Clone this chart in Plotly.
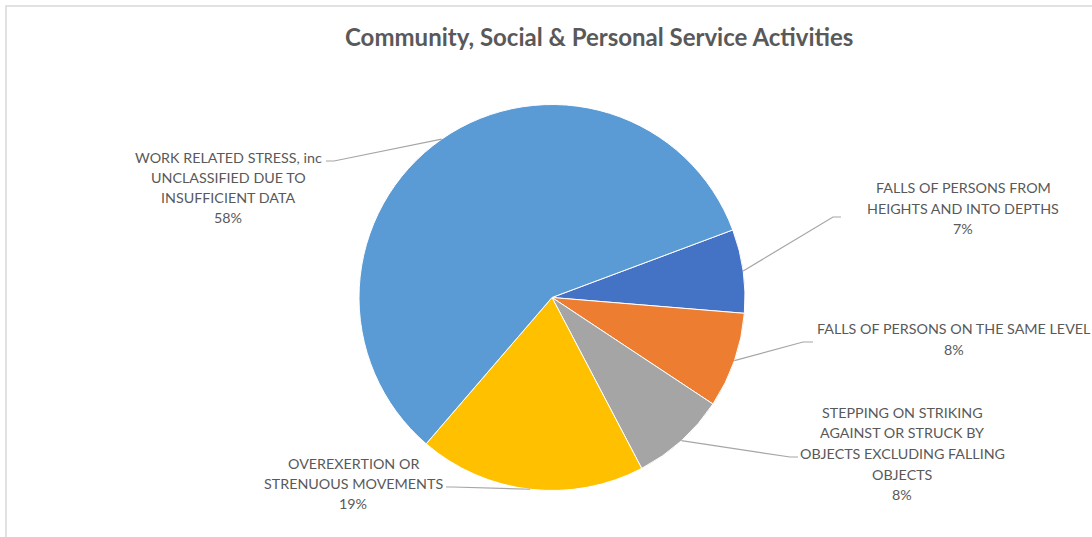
import math
import plotly.graph_objects as go

# Share of incidents by cause (percent), in drawing order (clockwise)
categories = [
    "FALLS OF PERSONS FROM HEIGHTS AND INTO DEPTHS",
    "FALLS OF PERSONS ON THE SAME LEVEL",
    "STEPPING ON STRIKING AGAINST OR STRUCK BY OBJECTS EXCLUDING FALLING OBJECTS",
    "OVEREXERTION OR STRENUOUS MOVEMENTS",
    "WORK RELATED STRESS, inc UNCLASSIFIED DUE TO INSUFFICIENT DATA",
]
values = [7, 8, 8, 19, 58]
label_lines = [
    ["FALLS OF PERSONS FROM", "HEIGHTS AND INTO DEPTHS"],
    ["FALLS OF PERSONS ON THE SAME LEVEL"],
    ["STEPPING ON STRIKING", "AGAINST OR STRUCK BY", "OBJECTS EXCLUDING FALLING", "OBJECTS"],
    ["OVEREXERTION OR", "STRENUOUS MOVEMENTS"],
    ["WORK RELATED STRESS, inc", "UNCLASSIFIED DUE TO", "INSUFFICIENT DATA"],
]
colors = ["#4472C4", "#ED7D31", "#A5A5A5", "#FFC000", "#5B9BD5"]

W, H = 1092, 537
CX, CY, R = 552.0, 297.5, 193.0
ROTATION = 69.5

# label block placement: (centre x, first line y, line step) and leader (elbow, end)
label_pos = [
    (963, 187, 21.0),
    (954, 328, 21.0),
    (902, 412, 20.7),
    (353, 463, 20.3),
    (228, 157, 20.2),
]
leaders = [
    ((833, 217), (841, 217)),
    ((803, 342), (813, 342)),
    ((790, 457), (798, 457)),
    ((453, 487), (446, 487)),
    ((334, 161), (326, 161)),
]

FONT = "Lato, Carlito, 'Open Sans', sans-serif"
TXT = "#595959"


def px(x):
    return x / W


def py(y):
    return 1 - y / H


fig = go.Figure(
    go.Pie(
        labels=categories,
        values=values,
        sort=False,
        direction="clockwise",
        rotation=ROTATION,
        marker=dict(colors=colors, line=dict(color="white", width=1)),
        textinfo="none",
        hoverinfo="label+percent",
        showlegend=False,
        domain=dict(x=[px(CX - R), px(CX + R)], y=[py(CY + R), py(CY - R)]),
    )
)

annotations = []
shapes = []
total = sum(values)
cum = 0.0
for i, v in enumerate(values):
    mid = ROTATION + (cum + v / 2) / total * 360.0
    cum += v
    a = math.radians(mid)
    sx, sy = CX + R * math.sin(a), CY - R * math.cos(a)
    (ex, ey), (tx, ty) = leaders[i]
    shapes.append(dict(type="path", xref="paper", yref="paper",
                       path=f"M {px(sx)},{py(sy)} L {px(ex)},{py(ey)} L {px(tx)},{py(ty)}",
                       line=dict(color="#A6A6A6", width=1.2)))
    cx, y0, step = label_pos[i]
    lines = label_lines[i] + [f"{round(v / total * 100)}%"]
    for j, t in enumerate(lines):
        annotations.append(dict(text=t, x=px(cx), y=py(y0 + j * step), xref="paper", yref="paper",
                                xanchor="center", yanchor="middle", showarrow=False,
                                font=dict(family=FONT, size=14.3, color=TXT)))

annotations.append(dict(text="<b>Community, Social &amp; Personal Service Activities</b>",
                        x=px(599), y=py(36), xref="paper", yref="paper",
                        xanchor="center", yanchor="middle", showarrow=False,
                        font=dict(family=FONT, size=24, color=TXT)))

# chart-area frame
shapes.append(dict(type="rect", xref="paper", yref="paper",
                   x0=px(6), y0=py(560), x1=px(1120), y1=py(6),
                   line=dict(color="#D9D9D9", width=1.5)))

fig.update_layout(
    width=W, height=H,
    margin=dict(l=0, r=0, t=0, b=0),
    paper_bgcolor="white", plot_bgcolor="white",
    annotations=annotations, shapes=shapes,
)

fig.write_html("out.html")
